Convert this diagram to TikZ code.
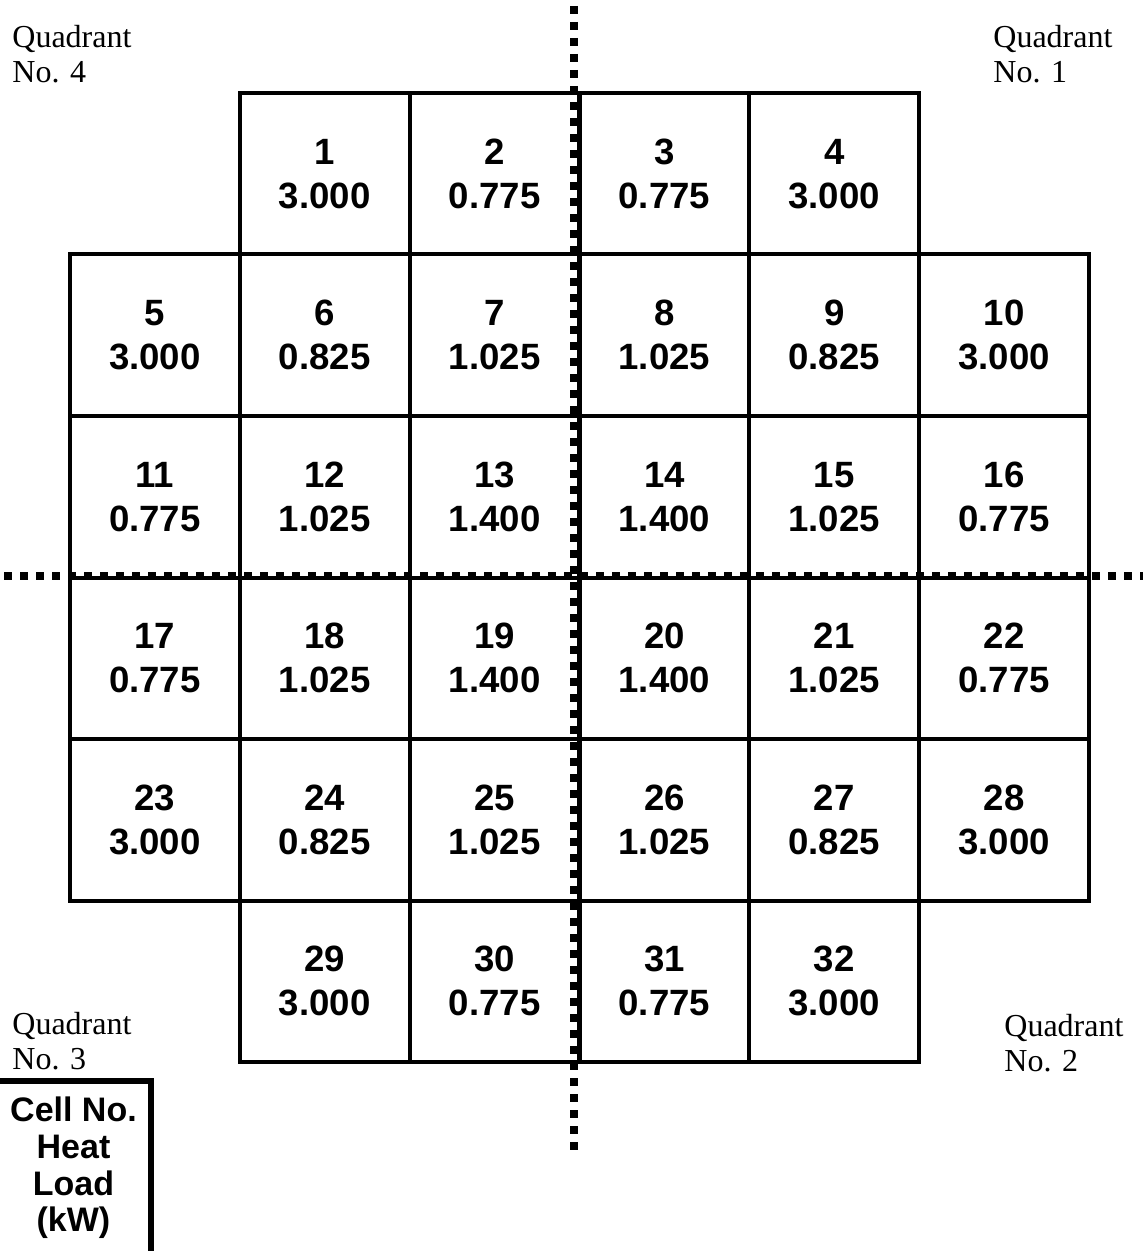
\documentclass[tikz,border=0pt]{standalone}
\usepackage{fontspec}
\setmainfont{Liberation Serif}
\setsansfont{Liberation Sans}
\usepackage{tikz}

\begin{document}
\begin{tikzpicture}[x=0.5pt,y=-0.5pt,
    cell/.style={draw,line width=2pt,inner sep=0pt,align=center,
      minimum width=84.9pt,minimum height=80.75pt,
      font=\sffamily\bfseries\fontsize{18.3}{22}\selectfont},
    quad/.style={anchor=north west,inner sep=0pt,align=left,
      font=\fontsize{16}{17.5}\selectfont},
    axis/.style={line width=4pt,dash pattern=on 4pt off 4pt}]
  \useasboundingbox (0,0) rectangle (1143,1251);
  % cells: number/column/row/heat load
  \foreach \n/\c/\r/\q in {1/1/0/3.000,2/2/0/0.775,3/3/0/0.775,4/4/0/3.000,
      5/0/1/3.000,6/1/1/0.825,7/2/1/1.025,8/3/1/1.025,9/4/1/0.825,10/5/1/3.000,
      11/0/2/0.775,12/1/2/1.025,13/2/2/1.400,14/3/2/1.400,15/4/2/1.025,16/5/2/0.775,
      17/0/3/0.775,18/1/3/1.025,19/2/3/1.400,20/3/3/1.400,21/4/3/1.025,22/5/3/0.775,
      23/0/4/3.000,24/1/4/0.825,25/2/4/1.025,26/3/4/1.025,27/4/4/0.825,28/5/4/3.000,
      29/1/5/3.000,30/2/5/0.775,31/3/5/0.775,32/4/5/3.000}
    \node[cell] (c\n) at ({70+169.83*(\c+0.5)},{93+161.5*(\r+0.5)}) {\n\\\q};
  % quadrant axes
  \coordinate (vtop) at (574,6);
  \coordinate (vbot) at (574,1150);
  \coordinate (hleft) at (4,576);
  \coordinate (hright) at (1143,576);
  \draw[axis] (vtop) -- (vbot);
  \draw[axis] (hleft) -- (hright);
  \node[quad] (q4) at (12,25) {Quadrant\\No. 4};
  \node[quad] (q1) at (993,25) {Quadrant\\No. 1};
  \node[quad] (q3) at (12,1012) {Quadrant\\No. 3};
  \node[quad] (q2) at (1004,1014) {Quadrant\\No. 2};
  % legend
  \node[draw,line width=3pt,inner sep=0pt,align=center,
    minimum width=77.5pt,minimum height=87pt,
    font=\sffamily\bfseries\fontsize{17}{18.3}\selectfont]
    (key) at (73.5,1168) {Cell No.\\Heat\\Load\\(kW)};
\end{tikzpicture}
\end{document}
